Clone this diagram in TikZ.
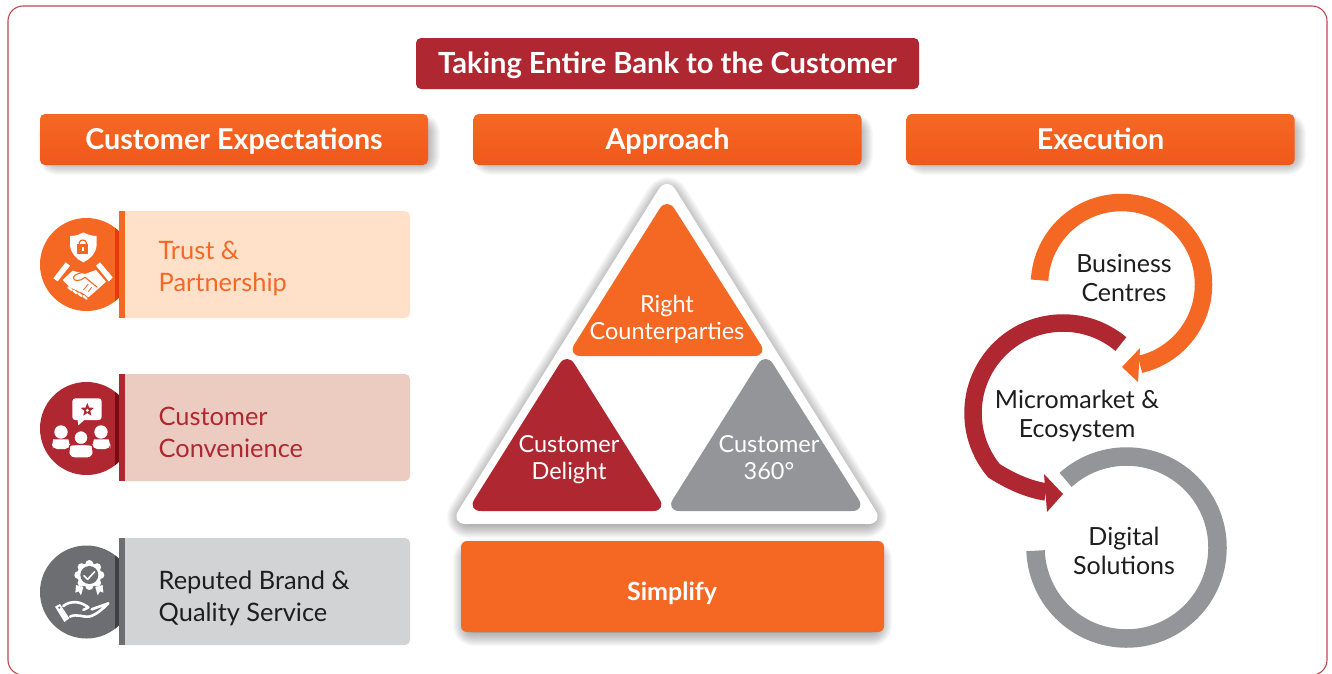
\documentclass[tikz,border=0pt]{standalone}
\usepackage{fontspec}
\setmainfont{Lato}
\usetikzlibrary{positioning, calc, shapes.geometric}
\definecolor{bankorange}{RGB}{245, 104, 36}
\definecolor{bankdeep}{RGB}{240, 88, 27}
\definecolor{bankred}{RGB}{175, 40, 49}
\definecolor{bankgrey}{RGB}{147, 149, 152}
\definecolor{icongrey}{RGB}{109, 110, 113}
\definecolor{lightorange}{RGB}{255, 225, 202}
\definecolor{lightred}{RGB}{236, 204, 193}
\definecolor{lightgrey}{RGB}{209, 211, 212}
\definecolor{striporange}{RGB}{230, 58, 10}
\definecolor{stripred}{RGB}{122, 10, 15}
\definecolor{stripgrey}{RGB}{63, 64, 69}
\definecolor{textdark}{RGB}{30, 30, 30}
\newcommand{\softshadow}[3]{%
  \begin{scope}[shift={(#1,#2)}]
    \foreach \w in {1,...,14} {
      \draw[black, opacity=.024, fill=black, fill opacity=.024, line width=2*\w pt, line join=round] #3;
    }
  \end{scope}}
\tikzset{
  headbox/.style={rounded corners=5pt, top color=bankorange, bottom color=bankdeep, text=white,
    minimum width=388pt, minimum height=51pt, inner sep=0pt, text height=24pt, text depth=5pt,
    font=\fontsize{28.7}{30}\selectfont\bfseries},
  itemtext/.style={anchor=west, align=left, inner sep=0pt, font=\fontsize{25.4}{32}\selectfont},
  tritext/.style={align=center, inner sep=0pt, text=white, font=\fontsize{23.5}{27}\selectfont},
  ringtext/.style={align=center, inner sep=0pt, text=textdark, font=\fontsize{25}{28.5}\selectfont},
  ring/.style={line width=17.5pt},
}
\begin{document}
\begin{tikzpicture}[x=1pt, y=-1pt]
  \useasboundingbox (0,0) rectangle (1332,673);
  \fill[white] (0,0) rectangle (1332,673);
  \draw[bankred!85, line width=1.1pt, rounded corners=15pt] (8,6) rectangle (1327,675);

  % title and column heads
  \node[fill=bankred, rounded corners=5pt, text=white, minimum width=503pt, minimum height=51pt, inner sep=0pt,
        text height=24pt, text depth=5pt, font=\fontsize{29.1}{30}\selectfont\bfseries] (title) at (667.5,63.5) {Taking Entire Bank to the Customer};
  \softshadow{6}{6}{[rounded corners=4pt] (46,122) rectangle (420,155)}
  \softshadow{6}{6}{[rounded corners=4pt] (480,122) rectangle (853,155)}
  \softshadow{6}{6}{[rounded corners=4pt] (913,122) rectangle (1286,155)}
  \node[headbox] (headexpect) at (234,139.5) {Customer Expectations};
  \node[headbox] (headapproach) at (667.5,139.5) {Approach};
  \node[headbox] (headexec) at (1100.5,139.5) {Execution};

  % left column
  \foreach \cy/\by/\main/\dark/\light in {264.5/264.5/bankorange/striporange/lightorange,
      428.5/427.5/bankred/stripred/lightred,
      592/591.5/icongrey/stripgrey/lightgrey} {
    \fill[\main] (86.5,\cy) circle (46.5);
    \begin{scope}
      \clip (86.5,\cy) circle (46.5);
      \fill[\dark] (115,\cy-50) rectangle (120,\cy+50);
    \end{scope}
    \fill[\light, rounded corners=5pt] (119,\by-53.5) rectangle (410,\by+53.5);
    \fill[\main] (119,\by-53.5) rectangle (125,\by+53.5);
  }
  \node[itemtext, text=bankorange] (trust) at (158.5,268) {Trust \&\\Partnership};
  \node[itemtext, text=bankred] (convenience) at (158.5,432) {Customer\\Convenience};
  \node[itemtext, text=textdark] (brand) at (158.5,598) {Reputed Brand \&\\Quality Service};

  % handshake icon
  \begin{scope}[shift={(20,200)}, scale=1/3]
    \fill[white] (150,108) .. controls (170,108) and (180,102) .. (190,97) .. controls (200,102) and (212,108) .. (230,108)
      -- (230,135) .. controls (228,160) and (210,178) .. (190,187) .. controls (170,178) and (152,160) .. (150,135) -- cycle;
    \fill[bankorange] (172,133) rectangle (205,163);
    \draw[bankorange, line width=1.2pt] (178,133) -- (178,128) arc[start angle=180, end angle=360, x radius=10.5, y radius=8] -- (199,133);
    \fill[white] (185,140) rectangle (192,154);
    \fill[white] (100,235) -- (137,187) -- (150,197) -- (113,244) -- cycle;
    \fill[white] (228,197) -- (240,187) -- (278,232) -- (267,245) -- cycle;
    \fill[white] (128,240) -- (158,212) -- (195,222) -- (228,210) -- (258,245) -- (236,265) -- (205,292) -- (190,280) -- (150,262) -- cycle;
    \draw[bankorange, line width=1.1pt, line join=round] (232,262) -- (195,232) .. controls (180,245) and (160,245) .. (160,232) .. controls (165,222) and (180,218) .. (200,216);
    \foreach \fx/\fy in {145/262,160/272,175/280,190/288} {
      \draw[white, line width=2.2pt, line cap=round] (\fx,\fy) -- (\fx+10,\fy+8);
    }
    \draw[bankorange, line width=.8pt] (215,262) -- (205,275) (205,252) -- (190,270);
  \end{scope}

  % people icon
  \begin{scope}[shift={(20,370)}, scale=1/3]
    \fill[white, rounded corners=3pt] (157,85) rectangle (245,150);
    \fill[white] (172,145) -- (175,166) -- (195,148) -- cycle;
    \node[star, star points=5, star point ratio=2.3, fill=bankred, minimum size=14pt, inner sep=0pt] (reviewstar) at (202,120) {};
    \fill[white] (202,121) circle (5);
    \fill[white] (123,186) circle (20);
    \fill[white] (243,186) circle (20);
    \fill[white, rounded corners=5pt] (96,237) -- (96,222) .. controls (100,208) and (145,208) .. (150,222) -- (150,237) -- cycle;
    \fill[white, rounded corners=5pt] (217,237) -- (217,222) .. controls (222,208) and (266,208) .. (271,222) -- (271,237) -- cycle;
    \draw[bankred, line width=1.2pt, fill=white] (183,203) circle (21);
    \draw[bankred, line width=1.2pt, fill=white, rounded corners=6pt] (146,264) -- (146,245) .. controls (150,222) and (216,222) .. (220,245) -- (220,264) -- cycle;
  \end{scope}

  % badge icon
  \begin{scope}[shift={(20,530)}, scale=1/3]
    \fill[white] (168,165) -- (190,172) -- (183,196) -- (176,184) -- (166,188) -- cycle;
    \fill[white] (248,165) -- (226,172) -- (233,196) -- (240,184) -- (250,188) -- cycle;
    \foreach \a in {0,45,...,315} { \fill[white] ($(208,135)+(\a:33)$) circle (12); }
    \fill[white] (208,135) circle (36);
    \fill[icongrey] (208,135) circle (27);
    \draw[white, line width=1.6pt, line cap=round, line join=round] (192,137) -- (203,148) -- (224,125);
    \fill[white] (105,230) -- (120,222) -- (148,265) -- (133,276) -- cycle;
    \fill[icongrey] (118,233) circle (3.5);
    \draw[white, line width=2.6pt, line join=round, line cap=round] (130,228) .. controls (150,212) and (180,212) .. (205,232) -- (190,240);
    \draw[white, line width=2.6pt, line join=round, line cap=round] (150,260) .. controls (170,250) and (190,262) .. (205,260) .. controls (225,258) and (250,235) .. (265,220) -- (215,238);
  \end{scope}

  % pyramid
  \softshadow{0}{4}{[rounded corners=14pt] (667,180) -- (455,520) -- (879,520) -- cycle}
  \fill[white, rounded corners=16pt] (667,176) -- (450,524) -- (884,524) -- cycle;
  \fill[bankorange, rounded corners=14pt] (667,197) -- (567,356) -- (768,356) -- cycle;
  \fill[bankred, rounded corners=14pt] (567,352) -- (467,511) -- (667,511) -- cycle;
  \fill[bankgrey, rounded corners=14pt] (765.5,352) -- (665.5,511) -- (866,511) -- cycle;
  \node[tritext] (right) at (667,319) {Right\\Counterparties};
  \node[tritext] (delight) at (569,460) {Customer\\Delight};
  \node[tritext] (cust360) at (769,458) {Customer\\360°};
  \softshadow{0}{6}{[rounded corners=6pt] (467,547) rectangle (878,626)}
  \node[fill=bankorange, rounded corners=6pt, minimum width=423pt, minimum height=91pt, inner sep=0pt] (simplifybox) at (672.5,586.5) {};
  \node[text=white, inner sep=0pt, font=\fontsize{25}{30}\selectfont\bfseries] (simplify) at (672,593) {Simplify};

  % execution cycle
  \draw[ring, bankorange] (1121.5,284.5) ++(183:82) arc[start angle=183, end angle=437, radius=82];
  \fill[bankorange] (1122,367) -- (1140,348) -- (1138,382) -- cycle;
  \draw[ring, bankred] (1063,413) ++(310:90) arc[start angle=310, end angle=140, radius=90]
     .. controls (1012,482) and (1028,489) .. (1046,492);
  \fill[bankred] (1063,494) -- (1044,474) -- (1047,512) -- cycle;
  \draw[line width=18.5pt, bankgrey] (1126.5,547.5) ++(228:91) arc[start angle=228, end angle=538, radius=91];
  \node[ringtext] (business) at (1124,278) {Business\\Centres};
  \node[ringtext] (micromarket) at (1077,416) {Micromarket \&\\Ecosystem};
  \node[ringtext] (digital) at (1124,551) {Digital\\Solutions};
\end{tikzpicture}
\end{document}
